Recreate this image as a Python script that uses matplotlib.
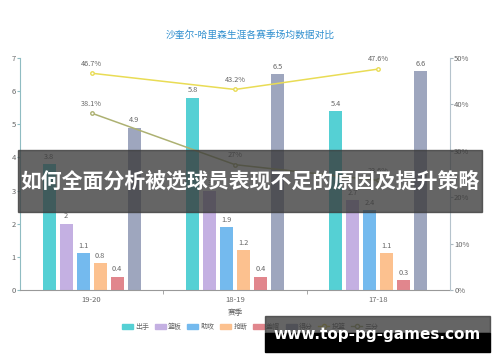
import numpy as np
import matplotlib
matplotlib.use("Agg")
import matplotlib.pyplot as plt
from matplotlib.patches import Rectangle
from matplotlib.lines import Line2D

plt.rcParams['font.family'] = ['Noto Sans CJK SC', 'DejaVu Sans']

# data
seasons = ["19-20", "18-19", "17-18"]
bar_names = ["出手", "篮板", "助攻", "抢断", "盖帽", "得分"]
shots = [3.8, 5.8, 5.4]
rebounds = [2.0, 3.0, 2.7]
assists = [1.1, 1.9, 2.4]
steals = [0.8, 1.2, 1.1]
blocks = [0.4, 0.4, 0.3]
points = [4.9, 6.5, 6.6]
fg_pct = [46.7, 43.2, 47.6]
three_pct = [38.1, 27.0, 23.6]
bar_labels = [["3.8", "5.8", "5.4"], ["2", "3", "2.7"], ["1.1", "1.9", "2.4"],
              ["0.8", "1.2", "1.1"], ["0.4", "0.4", "0.3"], ["4.9", "6.5", "6.6"]]

bar_colors = ["#55d0d4", "#c4b0e2", "#74baee", "#fcc18f", "#e1868d", "#9ea6be"]
fg_color = "#e9dc55"
three_color = "#adb172"
text_gray = "#666666"

fig = plt.figure(figsize=(5, 3.62), dpi=100)
ax = fig.add_axes([0.04, 0.199, 0.86, 0.641])
ax2 = ax.twinx()

x = np.arange(len(seasons))
pitch = 0.1186
width = 0.09
series = [shots, rebounds, assists, steals, blocks, points]
for i, vals in enumerate(series):
    off = (i - 2.5) * pitch
    ax.bar(x + off, vals, width, color=bar_colors[i], zorder=2)
    for xi, v, lab in zip(x, vals, bar_labels[i]):
        ax.text(xi + off, v + 0.1, lab, ha='center', va='bottom',
                fontsize=5.3, color=text_gray)

ax.set_xlim(-0.5, 2.5)
ax.set_ylim(0, 7)
ax.set_yticks(range(8))
ax.set_xticks(x)
ax.set_xticklabels(seasons)
ax.set_xticks([0.5, 1.5], minor=True)
ax.tick_params(axis='x', which='major', length=0, labelsize=5.5, colors=text_gray, pad=4)
ax.tick_params(axis='x', which='minor', length=3, color="#999999")
ax.tick_params(axis='y', labelsize=5.5, colors=text_gray, length=2, pad=1, color="#8fbcc2")
ax.set_xlabel("赛季", fontsize=5.5, color=text_gray, labelpad=4)

for s in ['top', 'right']:
    ax.spines[s].set_visible(False)
ax.spines['left'].set_color("#8fbcc2")
ax.spines['bottom'].set_color("#999999")
ax.spines['left'].set_linewidth(0.8)
ax.spines['bottom'].set_linewidth(0.8)

ax2.plot(x, fg_pct, color=fg_color, lw=1.1, marker='o', ms=2.5,
         mfc='white', mec=fg_color, zorder=3)
ax2.plot(x, three_pct, color=three_color, lw=1.1, marker='o', ms=2.5,
         mfc='white', mec=three_color, zorder=3)
for xi, v in zip(x, fg_pct):
    ax2.text(xi, v + 1.2, f"{v:g}%", ha='center', va='bottom', fontsize=5.3, color=text_gray)
for xi, v in zip(x, three_pct):
    ax2.text(xi, v + 1.2, f"{v:g}%", ha='center', va='bottom', fontsize=5.3, color=text_gray)

ax2.set_ylim(0, 50)
ax2.set_yticks(range(0, 51, 10))
ax2.set_yticklabels([f"{t}%" for t in range(0, 51, 10)])
ax2.tick_params(axis='y', labelsize=5.5, colors=text_gray, length=2, pad=1, color="#aab8c0")
for s in ['top', 'left', 'bottom']:
    ax2.spines[s].set_visible(False)
ax2.spines['right'].set_color("#b5c3cc")
ax2.spines['right'].set_linewidth(0.8)

fig.text(0.5, 0.905, "沙奎尔-哈里森生涯各赛季场均数据对比", ha='center', va='center',
         fontsize=7, color="#2f8fcf", weight='medium')

# legend
handles = [Rectangle((0, 0), 1, 1, color=c) for c in bar_colors]
handles += [Line2D([0], [0], color=fg_color, lw=1, marker='o', ms=3, mfc='white', mec=fg_color),
            Line2D([0], [0], color=three_color, lw=1, marker='o', ms=3, mfc='white', mec=three_color)]
labels = bar_names + ["投篮", "三分"]
fig.legend(handles, labels, loc='center', bbox_to_anchor=(0.5, 0.097), ncol=8,
           frameon=False, fontsize=5, handlelength=1.6, handleheight=0.8,
           handletextpad=0.3, columnspacing=0.8, labelcolor=text_gray)

# overlays on the image
fig.patches.append(Rectangle((18 / 500, 1 - 212 / 362), 464 / 500, 62 / 362,
                             transform=fig.transFigure, color="#3a3a3a", alpha=0.78,
                             zorder=10))
fig.text(0.5, 1 - 181 / 362, "如何全面分析被选球员表现不足的原因及提升策略",
         ha='center', va='center', fontsize=15, color='white', weight='bold', zorder=11)
fig.patches.append(Rectangle((265 / 500, 1 - 333 / 362), 225 / 500, 17 / 362,
                             transform=fig.transFigure, color="#3a3a3a", alpha=0.78,
                             zorder=10))
fig.patches.append(Rectangle((265 / 500, 1 - 352 / 362), 225 / 500, 19 / 362,
                             transform=fig.transFigure, color="black", zorder=10))
fig.text(377 / 500, 1 - 335 / 362, "www.top-pg-games.com", ha='center', va='center',
         fontsize=11, color='white', weight='bold', family='DejaVu Sans', zorder=11)

fig.savefig("out.png", dpi=100)
